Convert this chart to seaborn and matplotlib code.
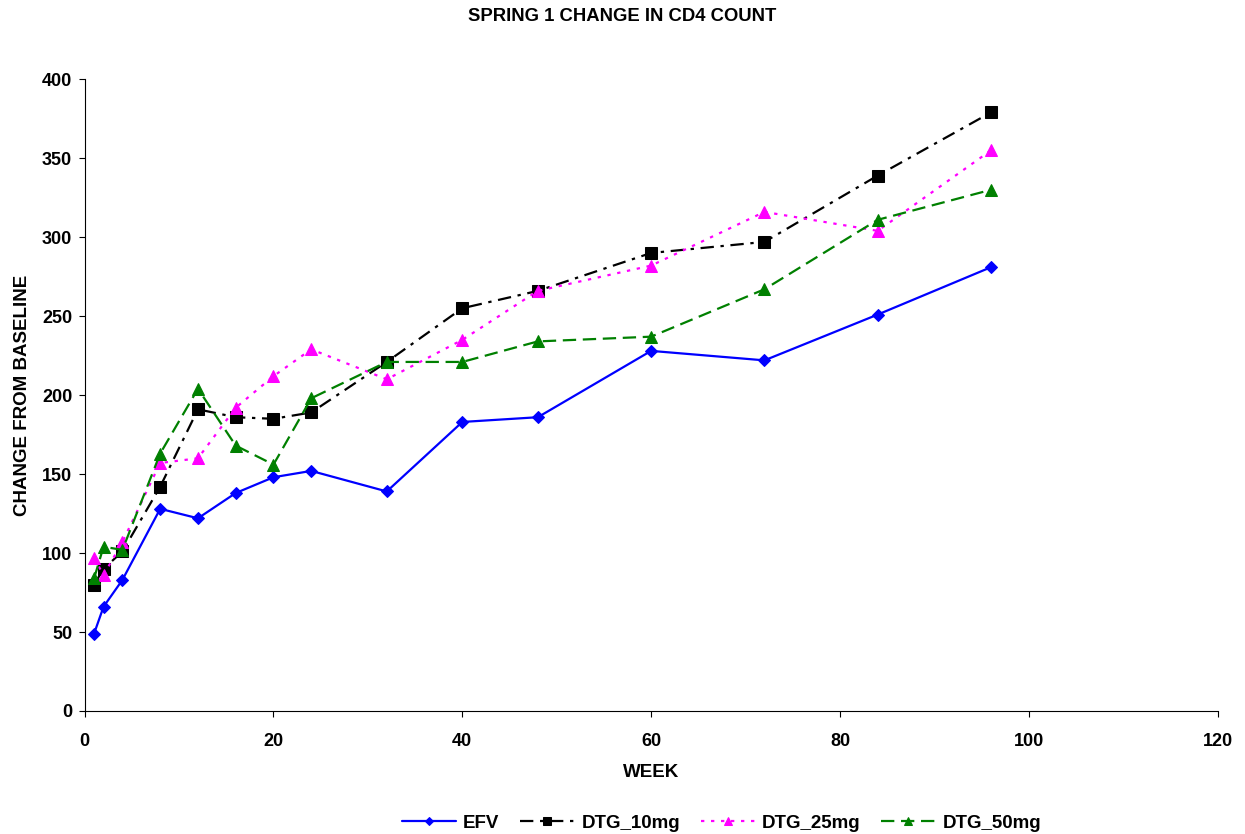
import pandas as pd
import matplotlib
matplotlib.use("Agg")
import matplotlib.pyplot as plt
import seaborn as sns

# Datos
weeks = [1, 2, 4, 8, 12, 16, 20, 24, 32, 40, 48, 60, 72, 84, 96]
efv = [49, 66, 83, 128, 122, 138, 148, 152, 139, 183, 186, 228, 222, 251, 281]
dtg_10 = [80, 90, 101, 142, 191, 186, 185, 189, 221, 255, 266, 290, 297, 339, 379]
dtg_25 = [97, 86, 107, 157, 160, 192, 212, 229, 210, 235, 266, 282, 316, 304, 355]
dtg_50 = [84, 104, 102, 163, 204, 168, 156, 198, 221, 221, 234, 237, 267, 311, 330]

series_names = ["EFV", "DTG_10mg", "DTG_25mg", "DTG_50mg"]
series_values = [efv, dtg_10, dtg_25, dtg_50]

sns.set_style("ticks", {"axes.edgecolor": "black", "text.color": "black",
                        "axes.labelcolor": "black", "xtick.color": "black",
                        "ytick.color": "black"})
plt.rcParams['font.family'] = ['Liberation Sans', 'DejaVu Sans']

estilos = {
    "EFV": dict(color="#0000FF", marker="D", linestyle="-", markersize=6),
    "DTG_10mg": dict(color="black", marker="s", linestyle=(0, (6, 3, 1.5, 3)), markersize=8),
    "DTG_25mg": dict(color="#FF00FF", marker="^", linestyle=(0, (1.5, 3)), markersize=8),
    "DTG_50mg": dict(color="green", marker="^", linestyle=(0, (6, 3)), markersize=8),
}

fig = plt.figure(figsize=(12.45, 8.34), dpi=100)
ax = fig.add_axes([0.068, 0.1475, 0.91, 0.7575])

for nombre, valores in zip(series_names, series_values):
    df = pd.DataFrame({"week": weeks, "change": valores})
    e = estilos[nombre]
    sns.lineplot(data=df, x="week", y="change", ax=ax, label=nombre,
                 color=e["color"], marker=e["marker"], markersize=e["markersize"],
                 markeredgecolor=e["color"], linestyle=e["linestyle"], linewidth=1.6)

ax.set_xlim(0, 120)
ax.set_ylim(0, 400)
ax.set_xticks(range(0, 121, 20))
ax.set_yticks(range(0, 401, 50))
ax.tick_params(labelsize=13, direction="out", length=4, colors="black")
ax.tick_params(axis="x", pad=12)
ax.tick_params(axis="y", pad=5)
for lbl in ax.get_xticklabels() + ax.get_yticklabels():
    lbl.set_fontweight("bold")
sns.despine(ax=ax)

ax.set_xlabel("WEEK", fontsize=13.5, fontweight="bold", labelpad=10)
ax.set_ylabel("CHANGE FROM BASELINE", fontsize=13.5, fontweight="bold", labelpad=8)
fig.suptitle("SPRING 1 CHANGE IN CD4 COUNT", fontsize=13.3, fontweight="bold", y=0.99)

leg = ax.legend(loc="upper center", bbox_to_anchor=(0.562, -0.137), ncol=4, frameon=False,
                fontsize=13.5, handlelength=2.9, columnspacing=1.1, handletextpad=0.37,
                markerscale=0.7)
for t in leg.get_texts():
    t.set_fontweight("bold")

fig.savefig("out.png", dpi=100)
